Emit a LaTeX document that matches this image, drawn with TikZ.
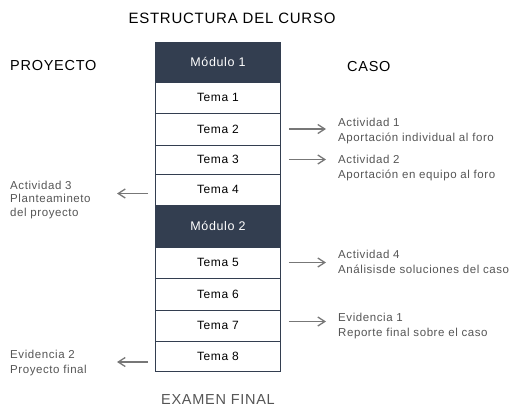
\documentclass[tikz,border=0pt]{standalone}
\usepackage{fontspec}
\setmainfont{Liberation Sans}[LetterSpace=5]
\usetikzlibrary{arrows.meta,positioning}
\definecolor{CurDark}{HTML}{333E50}
\definecolor{CurText}{HTML}{555555}
\definecolor{CurArrow}{HTML}{777777}

\begin{document}
\begin{tikzpicture}[
  x=1pt,y=-1pt,
  link/.style={-{Straight Barb[length=7pt,width=9pt]},draw=CurArrow,line width=1.3pt},
  tema/.style={draw=CurDark,fill=white,line width=0.9pt,minimum width=125pt,
    inner sep=0pt,font=\fontsize{12}{14}\selectfont},
  modulo/.style={tema,fill=CurDark,text=white,font=\fontsize{12.5}{14}\selectfont},
  heading/.style={font=\fontsize{14.5}{16}\selectfont},
  note/.style={anchor=west,align=left,text=CurText,inner sep=0pt,
    font=\fontsize{11.5}{15}\selectfont}
]
\useasboundingbox (0,0) rectangle (532,418);

% titles
\node[font=\fontsize{15}{18}\selectfont] (title) at (232,18) {ESTRUCTURA DEL CURSO};
\node[heading,anchor=west,inner sep=0pt] (proyecto) at (10,66) {PROYECTO};
\node[heading,anchor=west,inner sep=0pt] (caso) at (347,67) {CASO};

% course column
\node[modulo,minimum height=40pt] (m1) at (218,62) {Módulo 1};
\node[tema,minimum height=31pt] (t1) at (218,97.5) {Tema 1};
\node[tema,minimum height=32pt] (t2) at (218,129) {Tema 2};
\node[tema,minimum height=29pt] (t3) at (218,159.5) {Tema 3};
\node[tema,minimum height=31pt] (t4) at (218,189.5) {Tema 4};
\node[modulo,minimum height=42pt] (m2) at (218,226) {Módulo 2};
\node[tema,minimum height=31pt] (t5) at (218,262.5) {Tema 5};
\node[tema,minimum height=32pt] (t6) at (218,294) {Tema 6};
\node[tema,minimum height=31pt] (t7) at (218,325.5) {Tema 7};
\node[tema,minimum height=30pt] (t8) at (218,356) {Tema 8};

\node[font=\fontsize{14.5}{16}\selectfont,text=CurText] (examen) at (218,400) {EXAMEN FINAL};

% activities
\node[note] (a1) at (338,131.5) {Actividad 1\\Aportación individual al foro};
\node[note] (a2) at (338,168) {Actividad 2\\Aportación en equipo al foro};
\node[note] (a4) at (338,262) {Actividad 4\\Análisisde soluciones del caso};
\node[note] (e1) at (338,326.5) {Evidencia 1\\Reporte final sobre el caso};
\node[note,font=\fontsize{11.5}{13.5}\selectfont] (a3) at (10,200) {Actividad 3\\Planteamineto\\del proyecto};
\node[note] (e2) at (10,363.5) {Evidencia 2\\Proyecto final};

\draw[link] ([xshift=8pt]t2.east) -- ([xshift=-12pt]a1.west |- t2.east);
\draw[link] ([xshift=8pt]t3.east) -- ([xshift=-12pt]a2.west |- t3.east);
\draw[link] ([xshift=8pt]t5.east) -- ([xshift=-12pt]a4.west |- t5.east);
\draw[link] ([xshift=8pt,yshift=4pt]t7.east) -- ([xshift=-12pt,yshift=4pt]e1.west |- t7.east);
\draw[link] ([xshift=-7pt,yshift=-4pt]t4.west) -- ([xshift=-38pt,yshift=-4pt]t4.west);
\draw[link] ([xshift=-7pt,yshift=-6pt]t8.west) -- ([xshift=-38pt,yshift=-6pt]t8.west);

\end{tikzpicture}
\end{document}
